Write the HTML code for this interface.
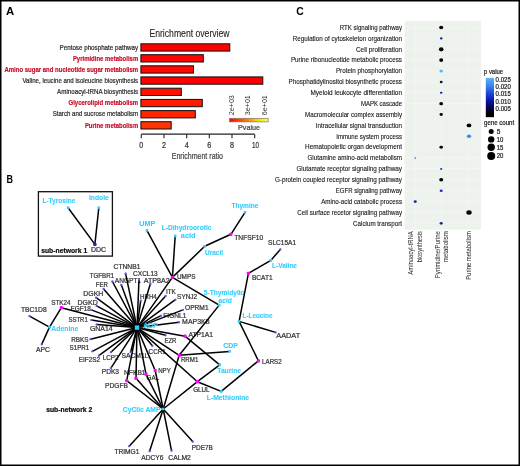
<!DOCTYPE html><html><head><meta charset="utf-8"><style>html,body{margin:0;padding:0;background:#fff;}svg{display:block;font-family:"Liberation Sans",sans-serif;will-change:transform;}</style></head><body>
<svg width="520" height="466" viewBox="0 0 520 466">
<rect x="0" y="0" width="520" height="466" fill="#fff"/>
<text x="6.0" y="14.5" font-size="11" fill="#000" font-weight="bold" textLength="8.2" lengthAdjust="spacingAndGlyphs">A</text>
<text x="149.4" y="37.0" font-size="10.2" fill="#222" stroke="#222" stroke-width="0.1" textLength="80.2" lengthAdjust="spacingAndGlyphs">Enrichment overview</text>
<text x="59.6" y="49.6" font-size="7.4" fill="#2a2a2a" stroke="#2a2a2a" stroke-width="0.22" textLength="78.6" lengthAdjust="spacingAndGlyphs">Pentose phosphate pathway</text>
<rect x="140.9" y="43.8" width="88.9" height="7.3" fill="#ff0000" stroke="#111" stroke-width="1"/>
<text x="72.9" y="60.7" font-size="7.4" fill="#c8102e" font-weight="bold" stroke="#c8102e" stroke-width="0.22" textLength="65.3" lengthAdjust="spacingAndGlyphs">Pyrimidine metabolism</text>
<rect x="140.9" y="54.7" width="62.4" height="7.3" fill="#ff0500" stroke="#111" stroke-width="1"/>
<text x="4.4" y="71.8" font-size="7.4" fill="#c8102e" font-weight="bold" stroke="#c8102e" stroke-width="0.22" textLength="133.8" lengthAdjust="spacingAndGlyphs">Amino sugar and nucleotide sugar metabolism</text>
<rect x="140.9" y="65.8" width="52.6" height="7.3" fill="#ff0800" stroke="#111" stroke-width="1"/>
<text x="22.4" y="82.5" font-size="7.4" fill="#2a2a2a" stroke="#2a2a2a" stroke-width="0.22" textLength="115.8" lengthAdjust="spacingAndGlyphs">Valine, leucine and isoleucine biosynthesis</text>
<rect x="140.9" y="76.9" width="121.9" height="7.3" fill="#ff0000" stroke="#111" stroke-width="1"/>
<text x="57.1" y="93.6" font-size="7.4" fill="#2a2a2a" stroke="#2a2a2a" stroke-width="0.22" textLength="81.1" lengthAdjust="spacingAndGlyphs">Aminoacyl-tRNA biosynthesis</text>
<rect x="140.9" y="88.2" width="40.4" height="7.3" fill="#ff1200" stroke="#111" stroke-width="1"/>
<text x="68.5" y="104.5" font-size="7.4" fill="#c8102e" font-weight="bold" stroke="#c8102e" stroke-width="0.22" textLength="69.7" lengthAdjust="spacingAndGlyphs">Glycerolipid metabolism</text>
<rect x="140.9" y="99.4" width="61.4" height="7.3" fill="#ff1c00" stroke="#111" stroke-width="1"/>
<text x="52.7" y="115.8" font-size="7.4" fill="#2a2a2a" stroke="#2a2a2a" stroke-width="0.22" textLength="85.5" lengthAdjust="spacingAndGlyphs">Starch and sucrose metabolism</text>
<rect x="140.9" y="110.6" width="54.4" height="7.3" fill="#ff2600" stroke="#111" stroke-width="1"/>
<text x="84.9" y="127.8" font-size="7.4" fill="#c8102e" font-weight="bold" stroke="#c8102e" stroke-width="0.22" textLength="53.3" lengthAdjust="spacingAndGlyphs">Purine metabolism</text>
<rect x="140.9" y="121.7" width="30.3" height="7.3" fill="#ff3400" stroke="#111" stroke-width="1"/>
<path d="M141.3 134.2H254.7" stroke="#222" stroke-width="1.3" fill="none"/>
<path d="M141.3 134.2V138.2" stroke="#222" stroke-width="1.1"/>
<text x="139.3" y="147.5" font-size="8.3" fill="#333" stroke="#333" stroke-width="0.22" textLength="4.0" lengthAdjust="spacingAndGlyphs">0</text>
<path d="M164.0 134.2V138.2" stroke="#222" stroke-width="1.1"/>
<text x="162.0" y="147.5" font-size="8.3" fill="#333" stroke="#333" stroke-width="0.22" textLength="4.0" lengthAdjust="spacingAndGlyphs">2</text>
<path d="M186.7 134.2V138.2" stroke="#222" stroke-width="1.1"/>
<text x="184.7" y="147.5" font-size="8.3" fill="#333" stroke="#333" stroke-width="0.22" textLength="4.0" lengthAdjust="spacingAndGlyphs">4</text>
<path d="M209.3 134.2V138.2" stroke="#222" stroke-width="1.1"/>
<text x="207.3" y="147.5" font-size="8.3" fill="#333" stroke="#333" stroke-width="0.22" textLength="4.0" lengthAdjust="spacingAndGlyphs">6</text>
<path d="M232.0 134.2V138.2" stroke="#222" stroke-width="1.1"/>
<text x="230.0" y="147.5" font-size="8.3" fill="#333" stroke="#333" stroke-width="0.22" textLength="4.0" lengthAdjust="spacingAndGlyphs">8</text>
<path d="M254.7 134.2V138.2" stroke="#222" stroke-width="1.1"/>
<text x="251.9" y="147.5" font-size="8.3" fill="#333" stroke="#333" stroke-width="0.22" textLength="7.0" lengthAdjust="spacingAndGlyphs">10</text>
<text x="171.7" y="159.0" font-size="9.4" fill="#444" stroke="#444" stroke-width="0.22" textLength="51.3" lengthAdjust="spacingAndGlyphs">Enrichment ratio</text>
<defs><linearGradient id="pg" x1="0" x2="1" y1="0" y2="0"><stop offset="0" stop-color="#ff0000"/><stop offset="0.45" stop-color="#ff7a00"/><stop offset="0.75" stop-color="#ffe000"/><stop offset="1" stop-color="#ffff40"/></linearGradient><linearGradient id="bg" x1="0" x2="0" y1="0" y2="1"><stop offset="0" stop-color="#5cb4f4"/><stop offset="0.2" stop-color="#3a84ec"/><stop offset="0.4" stop-color="#1a48d8"/><stop offset="0.55" stop-color="#0c1cb0"/><stop offset="0.7" stop-color="#060870"/><stop offset="0.82" stop-color="#020230"/><stop offset="0.9" stop-color="#000"/><stop offset="1" stop-color="#000"/></linearGradient></defs>
<rect x="229.6" y="118.3" width="38.6" height="3.6" fill="url(#pg)" stroke="#777" stroke-width="0.7"/>
<text transform="translate(233.5 115.2) rotate(-90)" x="0" y="0" font-size="7.2" fill="#333" textLength="20" lengthAdjust="spacingAndGlyphs">2e+03</text>
<text transform="translate(250.2 115.2) rotate(-90)" x="0" y="0" font-size="7.2" fill="#333" textLength="20" lengthAdjust="spacingAndGlyphs">3e+01</text>
<text transform="translate(266.9 115.2) rotate(-90)" x="0" y="0" font-size="7.2" fill="#333" textLength="20" lengthAdjust="spacingAndGlyphs">6e+01</text>
<text x="238.0" y="129.6" font-size="7.6" fill="#444" stroke="#444" stroke-width="0.22" textLength="22.0" lengthAdjust="spacingAndGlyphs">Pvalue</text>
<text x="296.3" y="14.9" font-size="10.5" fill="#000" font-weight="bold" textLength="7.5" lengthAdjust="spacingAndGlyphs">C</text>
<rect x="404.6" y="20.8" width="76.6" height="208.8" fill="#edf2ed"/>
<path d="M404.6 27.3H481.2" stroke="#f7f9f7" stroke-width="0.6"/>
<path d="M404.6 38.2H481.2" stroke="#f7f9f7" stroke-width="0.6"/>
<path d="M404.6 49.1H481.2" stroke="#f7f9f7" stroke-width="0.6"/>
<path d="M404.6 59.9H481.2" stroke="#f7f9f7" stroke-width="0.6"/>
<path d="M404.6 70.8H481.2" stroke="#f7f9f7" stroke-width="0.6"/>
<path d="M404.6 81.7H481.2" stroke="#f7f9f7" stroke-width="0.6"/>
<path d="M404.6 92.6H481.2" stroke="#f7f9f7" stroke-width="0.6"/>
<path d="M404.6 103.5H481.2" stroke="#f7f9f7" stroke-width="0.6"/>
<path d="M404.6 114.3H481.2" stroke="#f7f9f7" stroke-width="0.6"/>
<path d="M404.6 125.2H481.2" stroke="#f7f9f7" stroke-width="0.6"/>
<path d="M404.6 136.1H481.2" stroke="#f7f9f7" stroke-width="0.6"/>
<path d="M404.6 147.0H481.2" stroke="#f7f9f7" stroke-width="0.6"/>
<path d="M404.6 157.9H481.2" stroke="#f7f9f7" stroke-width="0.6"/>
<path d="M404.6 168.7H481.2" stroke="#f7f9f7" stroke-width="0.6"/>
<path d="M404.6 179.6H481.2" stroke="#f7f9f7" stroke-width="0.6"/>
<path d="M404.6 190.5H481.2" stroke="#f7f9f7" stroke-width="0.6"/>
<path d="M404.6 201.4H481.2" stroke="#f7f9f7" stroke-width="0.6"/>
<path d="M404.6 212.3H481.2" stroke="#f7f9f7" stroke-width="0.6"/>
<path d="M404.6 223.1H481.2" stroke="#f7f9f7" stroke-width="0.6"/>
<path d="M415.2 20.8V229.6" stroke="#f7f9f7" stroke-width="0.6"/>
<path d="M441.2 20.8V229.6" stroke="#f7f9f7" stroke-width="0.6"/>
<path d="M469.0 20.8V229.6" stroke="#f7f9f7" stroke-width="0.6"/>
<text x="339.8" y="29.8" font-size="7.1" fill="#181818" stroke="#181818" stroke-width="0.12" textLength="62.2" lengthAdjust="spacingAndGlyphs">RTK signaling pathway</text>
<text x="292.8" y="40.6" font-size="7.1" fill="#181818" stroke="#181818" stroke-width="0.12" textLength="109.2" lengthAdjust="spacingAndGlyphs">Regulation of cytoskeleton organization</text>
<text x="356.0" y="51.5" font-size="7.1" fill="#181818" stroke="#181818" stroke-width="0.12" textLength="46.0" lengthAdjust="spacingAndGlyphs">Cell proliferation</text>
<text x="290.9" y="62.4" font-size="7.1" fill="#181818" stroke="#181818" stroke-width="0.12" textLength="111.1" lengthAdjust="spacingAndGlyphs">Purine ribonucleotide metabolic process</text>
<text x="335.9" y="73.3" font-size="7.1" fill="#181818" stroke="#181818" stroke-width="0.12" textLength="66.1" lengthAdjust="spacingAndGlyphs">Protein phosphorylation</text>
<text x="288.6" y="84.2" font-size="7.1" fill="#181818" stroke="#181818" stroke-width="0.12" textLength="113.4" lengthAdjust="spacingAndGlyphs">Phosphatidylinositol biosynthetic process</text>
<text x="310.5" y="95.0" font-size="7.1" fill="#181818" stroke="#181818" stroke-width="0.12" textLength="91.5" lengthAdjust="spacingAndGlyphs">Myeloid leukocyte differentiation</text>
<text x="360.9" y="105.9" font-size="7.1" fill="#181818" stroke="#181818" stroke-width="0.12" textLength="41.1" lengthAdjust="spacingAndGlyphs">MAPK cascade</text>
<text x="305.0" y="116.8" font-size="7.1" fill="#181818" stroke="#181818" stroke-width="0.12" textLength="97.0" lengthAdjust="spacingAndGlyphs">Macromolecular complex assembly</text>
<text x="315.7" y="127.7" font-size="7.1" fill="#181818" stroke="#181818" stroke-width="0.12" textLength="86.3" lengthAdjust="spacingAndGlyphs">Intracellular signal transduction</text>
<text x="336.2" y="138.6" font-size="7.1" fill="#181818" stroke="#181818" stroke-width="0.12" textLength="65.8" lengthAdjust="spacingAndGlyphs">Immune system process</text>
<text x="305.1" y="149.4" font-size="7.1" fill="#181818" stroke="#181818" stroke-width="0.12" textLength="96.9" lengthAdjust="spacingAndGlyphs">Hematopoietic organ development</text>
<text x="307.5" y="160.3" font-size="7.1" fill="#181818" stroke="#181818" stroke-width="0.12" textLength="94.5" lengthAdjust="spacingAndGlyphs">Glutamine amino-acid metabolism</text>
<text x="296.4" y="171.2" font-size="7.1" fill="#181818" stroke="#181818" stroke-width="0.12" textLength="105.6" lengthAdjust="spacingAndGlyphs">Glutamate receptor signaling pathway</text>
<text x="274.9" y="182.1" font-size="7.1" fill="#181818" stroke="#181818" stroke-width="0.12" textLength="127.1" lengthAdjust="spacingAndGlyphs">G-protein coupled receptor signaling pathway</text>
<text x="335.8" y="193.0" font-size="7.1" fill="#181818" stroke="#181818" stroke-width="0.12" textLength="66.2" lengthAdjust="spacingAndGlyphs">EGFR signaling pathway</text>
<text x="321.2" y="203.8" font-size="7.1" fill="#181818" stroke="#181818" stroke-width="0.12" textLength="80.8" lengthAdjust="spacingAndGlyphs">Amino-acid catabolic process</text>
<text x="297.3" y="214.7" font-size="7.1" fill="#181818" stroke="#181818" stroke-width="0.12" textLength="104.7" lengthAdjust="spacingAndGlyphs">Cell surface recetor signaling pathway</text>
<text x="353.1" y="225.6" font-size="7.1" fill="#181818" stroke="#181818" stroke-width="0.12" textLength="48.9" lengthAdjust="spacingAndGlyphs">Calcium transport</text>
<ellipse cx="441.2" cy="27.5" rx="2.08" ry="1.75" fill="#000"/>
<ellipse cx="441.2" cy="38.4" rx="1.38" ry="1.13" fill="#1c1cb0"/>
<ellipse cx="441.2" cy="49.3" rx="2.3" ry="2.1" fill="#000"/>
<ellipse cx="441.2" cy="60.1" rx="1.98" ry="1.85" fill="#000"/>
<ellipse cx="441.2" cy="71.0" rx="1.73" ry="1.6" fill="#5ab4f8"/>
<ellipse cx="441.2" cy="81.9" rx="1.45" ry="1.25" fill="#0c0c40"/>
<ellipse cx="441.2" cy="92.8" rx="1.25" ry="1.05" fill="#1414a8"/>
<ellipse cx="441.2" cy="103.7" rx="1.9" ry="1.65" fill="#000"/>
<ellipse cx="441.2" cy="114.5" rx="1.65" ry="1.45" fill="#000"/>
<ellipse cx="469.0" cy="125.4" rx="2.38" ry="1.9" fill="#000"/>
<ellipse cx="469.0" cy="136.3" rx="2.13" ry="1.7" fill="#3c84f0"/>
<ellipse cx="441.2" cy="147.2" rx="1.78" ry="1.45" fill="#000"/>
<ellipse cx="415.2" cy="158.1" rx="0.95" ry="0.85" fill="#3a8cf2"/>
<ellipse cx="441.2" cy="168.9" rx="1.1" ry="0.9" fill="#1a22b4"/>
<ellipse cx="441.2" cy="179.8" rx="2.03" ry="1.7" fill="#000"/>
<ellipse cx="441.2" cy="190.7" rx="1.53" ry="1.2" fill="#1a30c4"/>
<ellipse cx="415.2" cy="201.6" rx="1.58" ry="1.33" fill="#1a2ab4"/>
<ellipse cx="469.0" cy="212.5" rx="2.68" ry="2.25" fill="#000"/>
<ellipse cx="441.2" cy="223.3" rx="1.58" ry="1.33" fill="#1a2aa8"/>
<text transform="translate(413.3 231.2) rotate(-90)" x="-43.5" y="0" font-size="6.6" fill="#222" textLength="43.5" lengthAdjust="spacingAndGlyphs">Aminoacyl-tRNA</text>
<text transform="translate(421.9 231.2) rotate(-90)" x="-31.0" y="0" font-size="6.6" fill="#222" textLength="31.0" lengthAdjust="spacingAndGlyphs">biosynthesis</text>
<text transform="translate(439.7 231.2) rotate(-90)" x="-47.0" y="0" font-size="6.6" fill="#222" textLength="47.0" lengthAdjust="spacingAndGlyphs">Pyrimidine/Purine</text>
<text transform="translate(448.3 231.2) rotate(-90)" x="-31.0" y="0" font-size="6.6" fill="#222" textLength="31.0" lengthAdjust="spacingAndGlyphs">metabolism</text>
<text transform="translate(471.2 231.2) rotate(-90)" x="-48.6" y="0" font-size="6.6" fill="#222" textLength="48.6" lengthAdjust="spacingAndGlyphs">Purine metabolism</text>
<text x="484.0" y="73.6" font-size="6.6" fill="#222" stroke="#222" stroke-width="0.22" textLength="19.0" lengthAdjust="spacingAndGlyphs">p value</text>
<rect x="485.8" y="77.9" width="8.2" height="39.3" fill="url(#bg)"/>
<text x="495.6" y="81.5" font-size="6.4" fill="#222" stroke="#222" stroke-width="0.22" textLength="15.2" lengthAdjust="spacingAndGlyphs">0.025</text>
<text x="495.6" y="88.9" font-size="6.4" fill="#222" stroke="#222" stroke-width="0.22" textLength="15.2" lengthAdjust="spacingAndGlyphs">0.020</text>
<text x="495.6" y="96.2" font-size="6.4" fill="#222" stroke="#222" stroke-width="0.22" textLength="15.2" lengthAdjust="spacingAndGlyphs">0.015</text>
<text x="495.6" y="103.5" font-size="6.4" fill="#222" stroke="#222" stroke-width="0.22" textLength="15.2" lengthAdjust="spacingAndGlyphs">0.010</text>
<text x="495.6" y="110.8" font-size="6.4" fill="#222" stroke="#222" stroke-width="0.22" textLength="15.2" lengthAdjust="spacingAndGlyphs">0.005</text>
<text x="484.0" y="125.3" font-size="6.6" fill="#222" stroke="#222" stroke-width="0.22" textLength="30.2" lengthAdjust="spacingAndGlyphs">gene count</text>
<circle cx="491.2" cy="131.6" r="2.5" fill="#000"/>
<text x="496.7" y="133.9" font-size="6.4" fill="#222" stroke="#222" stroke-width="0.22" textLength="3.6" lengthAdjust="spacingAndGlyphs">5</text>
<circle cx="491.2" cy="139.4" r="3.2" fill="#000"/>
<text x="496.7" y="141.7" font-size="6.4" fill="#222" stroke="#222" stroke-width="0.22" textLength="6.6" lengthAdjust="spacingAndGlyphs">10</text>
<circle cx="491.2" cy="147.3" r="3.7" fill="#000"/>
<text x="496.7" y="149.6" font-size="6.4" fill="#222" stroke="#222" stroke-width="0.22" textLength="6.6" lengthAdjust="spacingAndGlyphs">15</text>
<circle cx="491.2" cy="156.1" r="4.0" fill="#000"/>
<text x="496.7" y="158.4" font-size="6.4" fill="#222" stroke="#222" stroke-width="0.22" textLength="6.6" lengthAdjust="spacingAndGlyphs">20</text>
<text x="6.5" y="182.9" font-size="10.5" fill="#000" font-weight="bold" textLength="6.5" lengthAdjust="spacingAndGlyphs">B</text>
<rect x="38.4" y="191.7" width="74.0" height="64.4" fill="none" stroke="#111" stroke-width="1.3"/>
<text x="41.2" y="253.0" font-size="6.5" fill="#111" font-weight="bold" stroke="#111" stroke-width="0.22" textLength="46.0" lengthAdjust="spacingAndGlyphs">sub-network 1</text>
<text x="46.2" y="412.0" font-size="6.5" fill="#111" font-weight="bold" stroke="#111" stroke-width="0.22" textLength="46.1" lengthAdjust="spacingAndGlyphs">sub-network 2</text>
<text x="90.9" y="252.3" font-size="6.5" fill="#333" stroke="#333" stroke-width="0.22" textLength="15.1" lengthAdjust="spacingAndGlyphs">DDC</text>
<text x="234.3" y="239.9" font-size="6.5" fill="#333" stroke="#333" stroke-width="0.22" textLength="28.9" lengthAdjust="spacingAndGlyphs">TNFSF10</text>
<text x="177.0" y="279.1" font-size="6.5" fill="#333" stroke="#333" stroke-width="0.22" textLength="18.5" lengthAdjust="spacingAndGlyphs">UMPS</text>
<text x="268.1" y="245.1" font-size="6.5" fill="#333" stroke="#333" stroke-width="0.22" textLength="28.0" lengthAdjust="spacingAndGlyphs">SLC15A1</text>
<text x="252.0" y="279.8" font-size="6.5" fill="#333" stroke="#333" stroke-width="0.22" textLength="20.6" lengthAdjust="spacingAndGlyphs">BCAT1</text>
<text x="276.3" y="338.1" font-size="6.5" fill="#333" stroke="#333" stroke-width="0.22" textLength="23.9" lengthAdjust="spacingAndGlyphs">AADAT</text>
<text x="262.1" y="363.6" font-size="6.5" fill="#333" stroke="#333" stroke-width="0.22" textLength="19.6" lengthAdjust="spacingAndGlyphs">LARS2</text>
<text x="113.6" y="269.2" font-size="6.5" fill="#333" stroke="#333" stroke-width="0.22" textLength="26.8" lengthAdjust="spacingAndGlyphs">CTNNB1</text>
<text x="133.1" y="275.6" font-size="6.5" fill="#333" stroke="#333" stroke-width="0.22" textLength="24.6" lengthAdjust="spacingAndGlyphs">CXCL13</text>
<text x="114.8" y="283.0" font-size="6.5" fill="#333" stroke="#333" stroke-width="0.22" textLength="26.4" lengthAdjust="spacingAndGlyphs">ANGPT1</text>
<text x="143.8" y="283.0" font-size="6.5" fill="#333" stroke="#333" stroke-width="0.22" textLength="26.0" lengthAdjust="spacingAndGlyphs">ATP8A2</text>
<text x="89.8" y="278.3" font-size="6.5" fill="#333" stroke="#333" stroke-width="0.22" textLength="24.3" lengthAdjust="spacingAndGlyphs">TGFBR1</text>
<text x="95.7" y="286.9" font-size="6.5" fill="#333" stroke="#333" stroke-width="0.22" textLength="12.1" lengthAdjust="spacingAndGlyphs">FER</text>
<text x="83.3" y="295.7" font-size="6.5" fill="#333" stroke="#333" stroke-width="0.22" textLength="19.9" lengthAdjust="spacingAndGlyphs">DGKH</text>
<text x="77.6" y="304.5" font-size="6.5" fill="#333" stroke="#333" stroke-width="0.22" textLength="20.1" lengthAdjust="spacingAndGlyphs">DGKD</text>
<text x="70.4" y="310.5" font-size="6.5" fill="#333" stroke="#333" stroke-width="0.22" textLength="20.4" lengthAdjust="spacingAndGlyphs">EGF18</text>
<text x="51.2" y="304.6" font-size="6.5" fill="#333" stroke="#333" stroke-width="0.22" textLength="19.2" lengthAdjust="spacingAndGlyphs">STK24</text>
<text x="20.9" y="311.5" font-size="6.5" fill="#333" stroke="#333" stroke-width="0.22" textLength="25.8" lengthAdjust="spacingAndGlyphs">TBC1D8</text>
<text x="68.5" y="322.2" font-size="6.5" fill="#333" stroke="#333" stroke-width="0.22" textLength="19.2" lengthAdjust="spacingAndGlyphs">SSTR1</text>
<text x="90.0" y="330.7" font-size="6.5" fill="#333" stroke="#333" stroke-width="0.22" textLength="22.6" lengthAdjust="spacingAndGlyphs">GNA14</text>
<text x="71.2" y="341.7" font-size="6.5" fill="#333" stroke="#333" stroke-width="0.22" textLength="17.3" lengthAdjust="spacingAndGlyphs">RBKS</text>
<text x="69.6" y="350.4" font-size="6.5" fill="#333" stroke="#333" stroke-width="0.22" textLength="19.6" lengthAdjust="spacingAndGlyphs">S1PR1</text>
<text x="78.8" y="362.4" font-size="6.5" fill="#333" stroke="#333" stroke-width="0.22" textLength="21.2" lengthAdjust="spacingAndGlyphs">EIF2S2</text>
<text x="102.8" y="359.6" font-size="6.5" fill="#333" stroke="#333" stroke-width="0.22" textLength="15.8" lengthAdjust="spacingAndGlyphs">LCP2</text>
<text x="121.5" y="358.1" font-size="6.5" fill="#333" stroke="#333" stroke-width="0.22" textLength="27.0" lengthAdjust="spacingAndGlyphs">SACM1L</text>
<text x="148.6" y="353.8" font-size="6.5" fill="#333" stroke="#333" stroke-width="0.22" textLength="17.2" lengthAdjust="spacingAndGlyphs">CCR1</text>
<text x="164.4" y="342.9" font-size="6.5" fill="#333" stroke="#333" stroke-width="0.22" textLength="12.0" lengthAdjust="spacingAndGlyphs">EZR</text>
<text x="188.4" y="336.6" font-size="6.5" fill="#333" stroke="#333" stroke-width="0.22" textLength="24.6" lengthAdjust="spacingAndGlyphs">ATP1A1</text>
<text x="180.9" y="361.8" font-size="6.5" fill="#333" stroke="#333" stroke-width="0.22" textLength="17.5" lengthAdjust="spacingAndGlyphs">RRM1</text>
<text x="158.2" y="372.5" font-size="6.5" fill="#333" stroke="#333" stroke-width="0.22" textLength="12.5" lengthAdjust="spacingAndGlyphs">NPY</text>
<text x="146.6" y="379.8" font-size="6.5" fill="#333" stroke="#333" stroke-width="0.22" textLength="12.6" lengthAdjust="spacingAndGlyphs">GAL</text>
<text x="124.0" y="375.4" font-size="6.5" fill="#333" stroke="#333" stroke-width="0.22" textLength="21.6" lengthAdjust="spacingAndGlyphs">NFKB1</text>
<text x="105.1" y="388.0" font-size="6.5" fill="#333" stroke="#333" stroke-width="0.22" textLength="22.8" lengthAdjust="spacingAndGlyphs">PDGFB</text>
<text x="101.8" y="374.4" font-size="6.5" fill="#333" stroke="#333" stroke-width="0.22" textLength="17.2" lengthAdjust="spacingAndGlyphs">PDK3</text>
<text x="193.2" y="391.8" font-size="6.5" fill="#333" stroke="#333" stroke-width="0.22" textLength="16.4" lengthAdjust="spacingAndGlyphs">GLUL</text>
<text x="114.4" y="454.1" font-size="6.5" fill="#333" stroke="#333" stroke-width="0.22" textLength="25.0" lengthAdjust="spacingAndGlyphs">TRIMG1</text>
<text x="141.3" y="460.2" font-size="6.5" fill="#333" stroke="#333" stroke-width="0.22" textLength="22.2" lengthAdjust="spacingAndGlyphs">ADCY6</text>
<text x="168.3" y="460.2" font-size="6.5" fill="#333" stroke="#333" stroke-width="0.22" textLength="22.6" lengthAdjust="spacingAndGlyphs">CALM2</text>
<text x="191.8" y="449.9" font-size="6.5" fill="#333" stroke="#333" stroke-width="0.22" textLength="21.1" lengthAdjust="spacingAndGlyphs">PDE7B</text>
<text x="140.0" y="298.5" font-size="6.5" fill="#333" stroke="#333" stroke-width="0.22" textLength="16.8" lengthAdjust="spacingAndGlyphs">HRH4</text>
<text x="165.9" y="294.0" font-size="6.5" fill="#333" stroke="#333" stroke-width="0.22" textLength="9.9" lengthAdjust="spacingAndGlyphs">ITK</text>
<text x="177.1" y="298.9" font-size="6.5" fill="#333" stroke="#333" stroke-width="0.22" textLength="20.1" lengthAdjust="spacingAndGlyphs">SYNJ2</text>
<text x="185.0" y="310.0" font-size="6.5" fill="#333" stroke="#333" stroke-width="0.22" textLength="23.6" lengthAdjust="spacingAndGlyphs">OPRM1</text>
<text x="163.2" y="317.7" font-size="6.5" fill="#333" stroke="#333" stroke-width="0.22" textLength="23.2" lengthAdjust="spacingAndGlyphs">FIGNL1</text>
<text x="182.1" y="323.7" font-size="6.5" fill="#333" stroke="#333" stroke-width="0.22" textLength="27.4" lengthAdjust="spacingAndGlyphs">MAP3K8</text>
<text x="36.0" y="351.7" font-size="6.5" fill="#333" stroke="#333" stroke-width="0.22" textLength="14.0" lengthAdjust="spacingAndGlyphs">APC</text>
<text x="42.4" y="202.7" font-size="6.5" fill="#30ccfd" font-weight="bold" stroke="#30ccfd" stroke-width="0.08" textLength="33.1" lengthAdjust="spacingAndGlyphs">L-Tyrosine</text>
<text x="89.0" y="200.4" font-size="6.5" fill="#30ccfd" font-weight="bold" stroke="#30ccfd" stroke-width="0.08" textLength="19.8" lengthAdjust="spacingAndGlyphs">Indole</text>
<text x="139.2" y="225.9" font-size="6.5" fill="#30ccfd" font-weight="bold" stroke="#30ccfd" stroke-width="0.08" textLength="16.0" lengthAdjust="spacingAndGlyphs">UMP</text>
<text x="161.7" y="229.5" font-size="6.5" fill="#30ccfd" font-weight="bold" stroke="#30ccfd" stroke-width="0.08" textLength="49.8" lengthAdjust="spacingAndGlyphs">L-Dihydroorotic</text>
<text x="180.8" y="237.5" font-size="6.5" fill="#30ccfd" font-weight="bold" stroke="#30ccfd" stroke-width="0.08" textLength="14.7" lengthAdjust="spacingAndGlyphs">acid</text>
<text x="231.4" y="207.6" font-size="6.5" fill="#30ccfd" font-weight="bold" stroke="#30ccfd" stroke-width="0.08" textLength="27.0" lengthAdjust="spacingAndGlyphs">Thymine</text>
<text x="205.0" y="254.7" font-size="6.5" fill="#30ccfd" font-weight="bold" stroke="#30ccfd" stroke-width="0.08" textLength="18.0" lengthAdjust="spacingAndGlyphs">Uracil</text>
<text x="203.8" y="294.7" font-size="6.5" fill="#30ccfd" font-weight="bold" stroke="#30ccfd" stroke-width="0.08" textLength="40.5" lengthAdjust="spacingAndGlyphs">5-Thymidylic</text>
<text x="218.5" y="302.9" font-size="6.5" fill="#30ccfd" font-weight="bold" stroke="#30ccfd" stroke-width="0.08" textLength="13.3" lengthAdjust="spacingAndGlyphs">acid</text>
<text x="272.0" y="268.2" font-size="6.5" fill="#30ccfd" font-weight="bold" stroke="#30ccfd" stroke-width="0.08" textLength="25.0" lengthAdjust="spacingAndGlyphs">L-Valine</text>
<text x="242.6" y="318.4" font-size="6.5" fill="#30ccfd" font-weight="bold" stroke="#30ccfd" stroke-width="0.08" textLength="29.8" lengthAdjust="spacingAndGlyphs">L-Leucine</text>
<text x="223.2" y="347.9" font-size="6.5" fill="#30ccfd" font-weight="bold" stroke="#30ccfd" stroke-width="0.08" textLength="14.6" lengthAdjust="spacingAndGlyphs">CDP</text>
<text x="217.3" y="373.2" font-size="6.5" fill="#30ccfd" font-weight="bold" stroke="#30ccfd" stroke-width="0.08" textLength="23.7" lengthAdjust="spacingAndGlyphs">Taurine</text>
<text x="206.7" y="400.2" font-size="6.5" fill="#30ccfd" font-weight="bold" stroke="#30ccfd" stroke-width="0.08" textLength="42.5" lengthAdjust="spacingAndGlyphs">L-Methionine</text>
<text x="122.8" y="411.9" font-size="6.5" fill="#30ccfd" font-weight="bold" stroke="#30ccfd" stroke-width="0.08" textLength="37.6" lengthAdjust="spacingAndGlyphs">CyClic AMP</text>
<text x="51.3" y="330.9" font-size="6.5" fill="#30ccfd" font-weight="bold" stroke="#30ccfd" stroke-width="0.08" textLength="27.0" lengthAdjust="spacingAndGlyphs">Adenine</text>
<g stroke="#000" stroke-width="1.5" fill="none" stroke-linecap="round">
<path d="M68.1 207.7L94.9 244.4"/>
<path d="M98.8 207.8L94.9 244.4"/>
<path d="M172.4 277.4L146.9 230.4"/>
<path d="M172.4 277.4L175.2 235.9"/>
<path d="M172.4 277.4L204.7 246.3"/>
<path d="M172.4 277.4L219.2 305.1"/>
<path d="M204.7 246.3L230.9 234.3"/>
<path d="M230.9 234.3L245.0 212.3"/>
<path d="M219.2 305.1L179.2 355.3"/>
<path d="M179.2 355.3L229.5 351.4"/>
<path d="M179.2 355.3L163.2 409.0"/>
<path d="M185.0 336.2L219.7 364.8"/>
<path d="M219.7 364.8L197.4 381.7"/>
<path d="M197.4 381.7L163.2 409.0"/>
<path d="M197.4 381.7L221.2 391.4"/>
<path d="M221.2 391.4L258.4 360.8"/>
<path d="M258.4 360.8L239.1 321.4"/>
<path d="M239.1 321.4L248.4 273.3"/>
<path d="M239.1 321.4L275.6 332.4"/>
<path d="M248.4 273.3L270.8 260.4"/>
<path d="M270.8 260.4L280.3 249.4"/>
<path d="M163.2 409.0L126.7 380.6"/>
<path d="M163.2 409.0L136.0 378.3"/>
<path d="M163.2 409.0L146.0 374.1"/>
<path d="M163.2 409.0L155.2 370.5"/>
<path d="M163.2 409.0L129.2 446.2"/>
<path d="M163.2 409.0L149.6 451.2"/>
<path d="M163.2 409.0L171.5 450.6"/>
<path d="M163.2 409.0L192.7 441.6"/>
<path d="M61.4 307.7L49.5 327.1"/>
<path d="M29.5 316.1L49.5 327.1"/>
<path d="M49.5 327.1L41.7 344.4"/>
<path d="M137.0 327.6L125.6 273.6"/>
<path d="M137.0 327.6L139.0 279.5"/>
<path d="M137.0 327.6L121.3 284.8"/>
<path d="M137.0 327.6L150.4 283.8"/>
<path d="M137.0 327.6L112.4 281.5"/>
<path d="M137.0 327.6L103.6 288.9"/>
<path d="M137.0 327.6L96.1 297.6"/>
<path d="M137.0 327.6L96.6 305.8"/>
<path d="M137.0 327.6L91.4 309.9"/>
<path d="M137.0 327.6L61.4 307.7"/>
<path d="M137.0 327.6L91.4 320.0"/>
<path d="M137.0 327.6L96.6 324.5"/>
<path d="M137.0 327.6L90.5 339.2"/>
<path d="M137.0 327.6L92.4 351.3"/>
<path d="M137.0 327.6L98.8 355.6"/>
<path d="M137.0 327.6L110.9 352.2"/>
<path d="M137.0 327.6L130.6 352.2"/>
<path d="M137.0 327.6L152.4 345.8"/>
<path d="M137.0 327.6L165.5 335.3"/>
<path d="M137.0 327.6L185.0 336.2"/>
<path d="M137.0 327.6L179.2 355.3"/>
<path d="M137.0 327.6L197.4 381.7"/>
<path d="M137.0 327.6L155.2 370.5"/>
<path d="M137.0 327.6L146.0 374.1"/>
<path d="M137.0 327.6L136.0 378.3"/>
<path d="M137.0 327.6L126.7 380.6"/>
<path d="M137.0 327.6L110.9 368.2"/>
<path d="M137.0 327.6L179.1 322.3"/>
<path d="M137.0 327.6L161.1 315.7"/>
<path d="M137.0 327.6L182.9 309.9"/>
<path d="M137.0 327.6L175.4 299.7"/>
<path d="M137.0 327.6L165.6 295.9"/>
<path d="M137.0 327.6L140.7 300.6"/>
<path d="M137.0 327.6L172.4 277.4"/>
</g>
<text x="143.3" y="328.0" font-size="6.6" fill="#30ccfd" stroke="#30ccfd" stroke-width="0.3" textLength="14.6" lengthAdjust="spacingAndGlyphs">ADP</text>
<rect x="66.8" y="206.4" width="2.6" height="2.6" fill="#30ccfd"/>
<rect x="97.5" y="206.5" width="2.6" height="2.6" fill="#30ccfd"/>
<circle cx="94.9" cy="244.4" r="1.8" fill="#1428b4"/>
<rect x="145.6" y="229.1" width="2.6" height="2.6" fill="#30ccfd"/>
<rect x="173.9" y="234.6" width="2.6" height="2.6" fill="#30ccfd"/>
<rect x="243.7" y="211.0" width="2.6" height="2.6" fill="#30ccfd"/>
<rect x="203.4" y="245.0" width="2.6" height="2.6" fill="#30ccfd"/>
<rect x="217.9" y="303.8" width="2.6" height="2.6" fill="#30ccfd"/>
<rect x="269.5" y="259.1" width="2.6" height="2.6" fill="#30ccfd"/>
<rect x="237.8" y="320.1" width="2.6" height="2.6" fill="#30ccfd"/>
<rect x="228.2" y="350.1" width="2.6" height="2.6" fill="#30ccfd"/>
<rect x="218.4" y="363.5" width="2.6" height="2.6" fill="#30ccfd"/>
<rect x="219.9" y="390.1" width="2.6" height="2.6" fill="#30ccfd"/>
<rect x="161.9" y="407.7" width="2.6" height="2.6" fill="#30ccfd"/>
<rect x="48.2" y="325.8" width="2.6" height="2.6" fill="#30ccfd"/>
<rect x="134.8" y="325.4" width="4.4" height="4.4" fill="#30ccfd"/>
<rect x="229.3" y="232.7" width="3.2" height="3.2" rx="0.9" fill="#ff00ff"/>
<rect x="170.8" y="275.8" width="3.2" height="3.2" rx="0.9" fill="#ff00ff"/>
<rect x="279.3" y="248.4" width="2.0" height="2.0" fill="#5b5bff"/>
<rect x="246.8" y="271.7" width="3.2" height="3.2" rx="0.9" fill="#ff00ff"/>
<rect x="274.6" y="331.4" width="2.0" height="2.0" fill="#5b5bff"/>
<rect x="256.8" y="359.2" width="3.2" height="3.2" rx="0.9" fill="#ff00ff"/>
<rect x="124.6" y="272.6" width="2.0" height="2.0" fill="#5b5bff"/>
<rect x="138.0" y="278.5" width="2.0" height="2.0" fill="#5b5bff"/>
<rect x="120.3" y="283.8" width="2.0" height="2.0" fill="#5b5bff"/>
<rect x="149.4" y="282.8" width="2.0" height="2.0" fill="#5b5bff"/>
<rect x="111.4" y="280.5" width="2.0" height="2.0" fill="#5b5bff"/>
<rect x="102.6" y="287.9" width="2.0" height="2.0" fill="#5b5bff"/>
<rect x="95.1" y="296.6" width="2.0" height="2.0" fill="#5b5bff"/>
<rect x="95.6" y="304.8" width="2.0" height="2.0" fill="#5b5bff"/>
<rect x="90.4" y="308.9" width="2.0" height="2.0" fill="#5b5bff"/>
<rect x="59.8" y="306.1" width="3.2" height="3.2" rx="0.9" fill="#ff00ff"/>
<rect x="28.5" y="315.1" width="2.0" height="2.0" fill="#5b5bff"/>
<rect x="90.4" y="319.0" width="2.0" height="2.0" fill="#5b5bff"/>
<rect x="95.6" y="323.5" width="2.0" height="2.0" fill="#5b5bff"/>
<rect x="89.5" y="338.2" width="2.0" height="2.0" fill="#5b5bff"/>
<rect x="91.4" y="350.3" width="2.0" height="2.0" fill="#5b5bff"/>
<rect x="97.8" y="354.6" width="2.0" height="2.0" fill="#5b5bff"/>
<rect x="109.9" y="351.2" width="2.0" height="2.0" fill="#5b5bff"/>
<rect x="129.6" y="351.2" width="2.0" height="2.0" fill="#5b5bff"/>
<rect x="151.4" y="344.8" width="2.0" height="2.0" fill="#5b5bff"/>
<rect x="164.5" y="334.3" width="2.0" height="2.0" fill="#5b5bff"/>
<rect x="183.4" y="334.6" width="3.2" height="3.2" rx="0.9" fill="#ff00ff"/>
<rect x="177.6" y="353.7" width="3.2" height="3.2" rx="0.9" fill="#ff00ff"/>
<rect x="153.6" y="368.9" width="3.2" height="3.2" rx="0.9" fill="#ff00ff"/>
<rect x="144.4" y="372.5" width="3.2" height="3.2" rx="0.9" fill="#ff00ff"/>
<rect x="134.4" y="376.7" width="3.2" height="3.2" rx="0.9" fill="#ff00ff"/>
<rect x="125.1" y="379.0" width="3.2" height="3.2" rx="0.9" fill="#ff00ff"/>
<rect x="109.9" y="367.2" width="2.0" height="2.0" fill="#5b5bff"/>
<rect x="195.8" y="380.1" width="3.2" height="3.2" rx="0.9" fill="#ff00ff"/>
<rect x="128.2" y="445.2" width="2.0" height="2.0" fill="#5b5bff"/>
<rect x="148.6" y="450.2" width="2.0" height="2.0" fill="#5b5bff"/>
<rect x="170.5" y="449.6" width="2.0" height="2.0" fill="#5b5bff"/>
<rect x="191.7" y="440.6" width="2.0" height="2.0" fill="#5b5bff"/>
<rect x="139.7" y="299.6" width="2.0" height="2.0" fill="#5b5bff"/>
<rect x="164.6" y="294.9" width="2.0" height="2.0" fill="#5b5bff"/>
<rect x="174.4" y="298.7" width="2.0" height="2.0" fill="#5b5bff"/>
<rect x="181.9" y="308.9" width="2.0" height="2.0" fill="#5b5bff"/>
<rect x="160.1" y="314.7" width="2.0" height="2.0" fill="#5b5bff"/>
<rect x="178.1" y="321.3" width="2.0" height="2.0" fill="#5b5bff"/>
<rect x="40.7" y="343.4" width="2.0" height="2.0" fill="#5b5bff"/>
<rect x="0.75" y="0.75" width="518.5" height="464.5" fill="none" stroke="#000" stroke-width="1.5"/>
</svg></body></html>
